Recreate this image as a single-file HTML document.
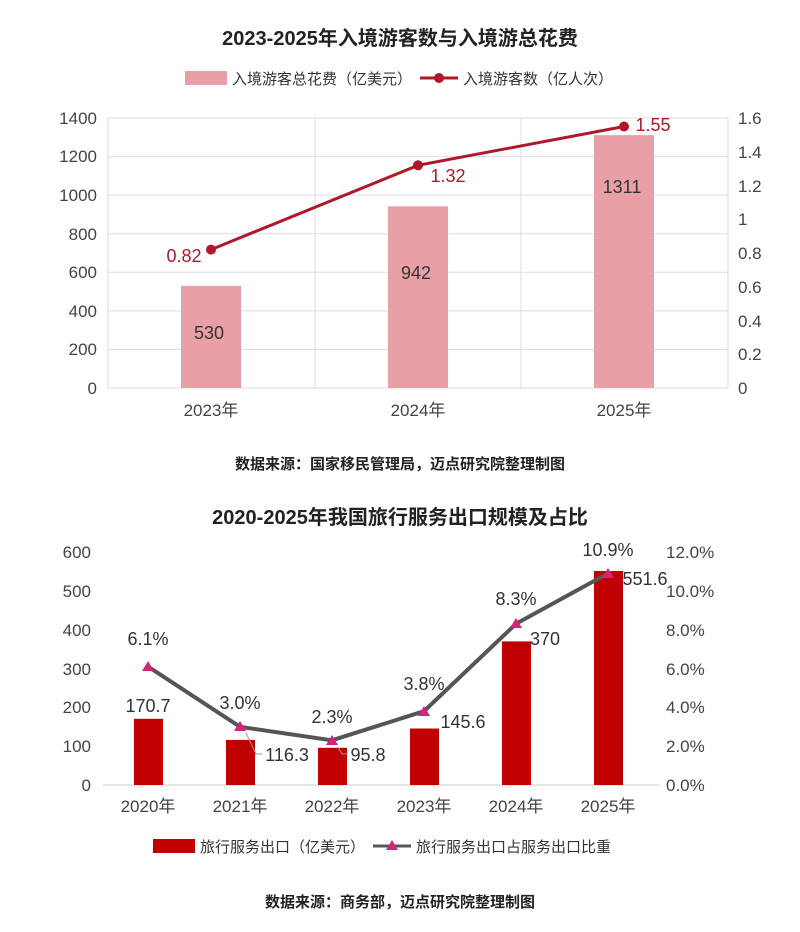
<!DOCTYPE html>
<html><head><meta charset="utf-8"><style>
body{margin:0;background:#fff;}
svg text{font-family:"Liberation Sans","Noto Sans CJK SC",sans-serif;}
</style></head><body>
<svg width="800" height="927" viewBox="0 0 800 927" xmlns="http://www.w3.org/2000/svg">
<rect width="800" height="927" fill="#fff"/>
<!-- Chart 1 -->
<text x="400" y="45" text-anchor="middle" font-size="20" font-weight="bold" fill="#222">2023-2025年入境游客数与入境游总花费</text>
<rect x="185" y="71" width="42" height="14" fill="#e8a0a6"/>
<text x="232" y="84" font-size="15" fill="#333">入境游客总花费（亿美元）</text>
<line x1="420" y1="78" x2="458" y2="78" stroke="#b0182a" stroke-width="3"/>
<circle cx="439" cy="78" r="5" fill="#b0182a"/>
<text x="463" y="84" font-size="15" fill="#333">入境游客数（亿人次）</text>
<g stroke="#ddd" stroke-width="1">
<line x1="108" y1="118" x2="728" y2="118"/><line x1="108" y1="156.6" x2="728" y2="156.6"/>
<line x1="108" y1="195.1" x2="728" y2="195.1"/><line x1="108" y1="233.7" x2="728" y2="233.7"/>
<line x1="108" y1="272.3" x2="728" y2="272.3"/><line x1="108" y1="310.9" x2="728" y2="310.9"/>
<line x1="108" y1="349.4" x2="728" y2="349.4"/><line x1="108" y1="388" x2="728" y2="388"/>
<line x1="108" y1="118" x2="108" y2="388"/><line x1="315" y1="118" x2="315" y2="388"/>
<line x1="521" y1="118" x2="521" y2="388"/><line x1="728" y1="118" x2="728" y2="388"/>
</g>
<g font-size="17" fill="#444" text-anchor="end">
<text x="97" y="124">1400</text><text x="97" y="162">1200</text><text x="97" y="201">1000</text>
<text x="97" y="240">800</text><text x="97" y="278">600</text><text x="97" y="317">400</text>
<text x="97" y="355">200</text><text x="97" y="394">0</text>
</g>
<g font-size="17" fill="#444">
<text x="738" y="124">1.6</text><text x="738" y="158">1.4</text><text x="738" y="192">1.2</text>
<text x="738" y="225">1</text><text x="738" y="259">0.8</text><text x="738" y="293">0.6</text>
<text x="738" y="327">0.4</text><text x="738" y="360">0.2</text><text x="738" y="394">0</text>
</g>
<rect x="181" y="285.8" width="60" height="102.2" fill="#e8a0a6"/>
<rect x="388" y="206.3" width="60" height="181.7" fill="#e8a0a6"/>
<rect x="594" y="135.1" width="60" height="252.9" fill="#e8a0a6"/>
<g font-size="18" fill="#333" text-anchor="middle">
<text x="209" y="339">530</text><text x="416" y="279">942</text><text x="622" y="193">1311</text>
</g>
<polyline points="211,249.6 418,165.3 624,126.5" fill="none" stroke="#b0182a" stroke-width="3"/>
<circle cx="211" cy="249.6" r="5" fill="#b0182a"/><circle cx="418" cy="165.3" r="5" fill="#b0182a"/><circle cx="624" cy="126.5" r="5" fill="#b0182a"/>
<g font-size="18" fill="#b0182a" text-anchor="middle">
<text x="184" y="262">0.82</text><text x="448" y="182">1.32</text><text x="653" y="131">1.55</text>
</g>
<g font-size="17" fill="#444" text-anchor="middle">
<text x="211" y="416">2023年</text><text x="418" y="416">2024年</text><text x="624" y="416">2025年</text>
</g>
<text x="400" y="469" text-anchor="middle" font-size="15" font-weight="bold" fill="#222">数据来源：国家移民管理局，迈点研究院整理制图</text>
<!-- Chart 2 -->
<text x="400" y="524" text-anchor="middle" font-size="20" font-weight="bold" fill="#222">2020-2025年我国旅行服务出口规模及占比</text>
<line x1="103" y1="785" x2="660" y2="785" stroke="#ccc"/>
<g font-size="17" fill="#444" text-anchor="end">
<text x="91" y="558">600</text><text x="91" y="597">500</text><text x="91" y="636">400</text>
<text x="91" y="675">300</text><text x="91" y="713">200</text><text x="91" y="752">100</text><text x="91" y="791">0</text>
</g>
<g font-size="17" fill="#444">
<text x="666" y="558">12.0%</text><text x="666" y="597">10.0%</text><text x="666" y="636">8.0%</text>
<text x="666" y="675">6.0%</text><text x="666" y="713">4.0%</text><text x="666" y="752">2.0%</text><text x="666" y="791">0.0%</text>
</g>
<g fill="#c00000">
<rect x="134" y="718.8" width="29" height="66.2"/>
<rect x="226" y="739.9" width="29" height="45.1"/>
<rect x="318" y="747.8" width="29" height="37.2"/>
<rect x="410" y="728.5" width="29" height="56.5"/>
<rect x="502" y="641.4" width="29" height="143.6"/>
<rect x="594" y="571" width="29" height="214"/>
</g>
<polyline points="148,666.6 240,726.8 332,740.3 424,711.2 516,623.8 608,573.4" fill="none" stroke="#555" stroke-width="4"/>
<g fill="#d6237a">
<polygon points="148,661 142,671 154,671"/><polygon points="240,721 234,731 246,731"/>
<polygon points="332,735 326,745 338,745"/><polygon points="424,706 418,716 430,716"/>
<polygon points="516,618 510,628 522,628"/><polygon points="608,568 602,578 614,578"/>
</g>
<polyline points="246,733 256,754 262,754" fill="none" stroke="#999"/>
<polyline points="338,747 342,754 348,754" fill="none" stroke="#999"/>
<g font-size="18" fill="#333" text-anchor="middle">
<text x="148" y="645">6.1%</text><text x="240" y="709">3.0%</text><text x="332" y="723">2.3%</text>
<text x="424" y="690">3.8%</text><text x="516" y="605">8.3%</text><text x="608" y="556">10.9%</text>
<text x="148" y="712">170.7</text><text x="287" y="761">116.3</text><text x="368" y="761">95.8</text>
<text x="463" y="728">145.6</text><text x="545" y="645">370</text><text x="645" y="585">551.6</text>
</g>
<g font-size="17" fill="#444" text-anchor="middle">
<text x="148" y="812">2020年</text><text x="240" y="812">2021年</text><text x="332" y="812">2022年</text>
<text x="424" y="812">2023年</text><text x="516" y="812">2024年</text><text x="608" y="812">2025年</text>
</g>
<rect x="153" y="839" width="42" height="14" fill="#c00000"/>
<text x="200" y="852" font-size="15" fill="#333">旅行服务出口（亿美元）</text>
<line x1="373" y1="846" x2="411" y2="846" stroke="#555" stroke-width="3"/>
<polygon points="392,840 386,850 398,850" fill="#d6237a"/>
<text x="416" y="852" font-size="15" fill="#333">旅行服务出口占服务出口比重</text>
<text x="400" y="907" text-anchor="middle" font-size="15" font-weight="bold" fill="#222">数据来源：商务部，迈点研究院整理制图</text>
</svg>
</body></html>
